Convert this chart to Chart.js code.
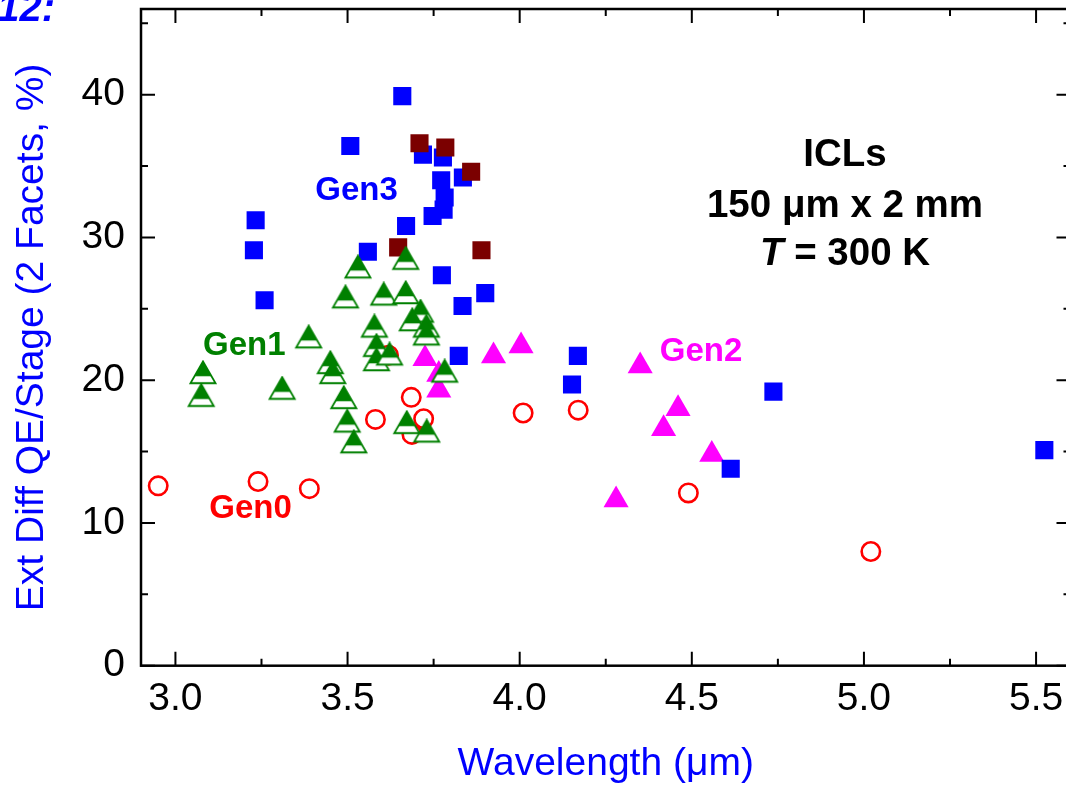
<!DOCTYPE html>
<html>
<head>
<meta charset="utf-8">
<script src="https://cdn.jsdelivr.net/npm/chart.js@4"></script>
<style>
  html, body { margin: 0; padding: 0; overflow: hidden; background: #fff; }
  #wrap { width: 1080px; height: 785px; }
</style>
</head>
<body>
<div id="wrap"><canvas id="qeChart" width="1080" height="785"></canvas></div>
<script>
// wavelength (um) vs. external differential QE per stage (%, both facets)
const gen0X = [2.95, 3.24, 3.389, 3.581, 3.619, 3.685, 3.687, 3.721, 4.01, 4.17, 4.49, 5.02];
const gen0Y = [12.6, 12.9, 12.4, 17.25, 21.75, 18.8, 16.2, 17.3, 17.7, 17.9, 12.1, 8.0];

const gen1X = [3.080, 3.075, 3.310, 3.387, 3.450, 3.457, 3.489, 3.499, 3.518, 3.530, 3.494, 3.605, 3.669,
               3.669, 3.578, 3.584, 3.584, 3.622, 3.712, 3.688, 3.729, 3.729, 3.782, 3.672, 3.730];
const gen1Y = [20.3, 18.7, 19.2, 22.8, 21.0, 20.3, 18.55, 16.9, 15.45, 27.7, 25.6, 25.8, 25.9,
               28.3, 23.55, 22.2, 21.2, 21.6, 24.6, 24.0, 23.55, 23.0, 20.4, 16.8, 16.2];

const gen2X = [3.725, 3.765, 3.765, 3.924, 4.004, 4.350, 4.460, 4.418, 4.558, 4.280];
const gen2Y = [21.5, 20.4, 19.3, 21.7, 22.4, 21.0, 18.0, 16.6, 14.8, 11.6];

const gen3X = [3.659, 3.508, 3.233, 3.228, 3.259, 3.559, 3.670, 3.719, 3.777, 3.772, 3.782, 3.779,
               3.747, 3.835, 3.774, 3.834, 3.900, 3.823, 4.169, 4.152, 4.737, 4.613, 5.524];
const gen3Y = [39.9, 36.4, 31.2, 29.1, 25.6, 29.0, 30.8, 35.8, 35.6, 34.0, 32.8, 31.95,
               31.5, 34.2, 27.35, 25.2, 26.1, 21.7, 21.7, 19.7, 19.2, 13.8, 15.1];

// newer Gen3 devices (dark red)
const gen3bX = [3.709, 3.784, 3.859, 3.647, 3.889];
const gen3bY = [36.6, 36.3, 34.6, 29.3, 29.1];

const xTicks = [3.0, 3.5, 4.0, 4.5, 5.0, 5.5];
const yTicks = [0, 10, 20, 30, 40];

const FONT = '"Liberation Sans", Arial, Helvetica, sans-serif';
const BLUE = '#0000ff', GREEN = '#008000', RED = '#ff0000', MAGENTA = '#ff00ff', MAROON = '#7b0000';

const pts = (xs, ys) => xs.map((v, i) => ({ x: v, y: ys[i] }));

// open triangle with the upper part filled, used for Gen1
function halfTriangle(r, color) {
  const c = document.createElement('canvas');
  c.width = 32; c.height = 32;
  const g = c.getContext('2d');
  const cx = 16, cy = 16;
  const dx = r * Math.sin(Math.PI / 3);
  const top = cy - r, base = cy + r / 2;
  g.beginPath();
  g.moveTo(cx, top);
  g.lineTo(cx + dx, base);
  g.lineTo(cx - dx, base);
  g.closePath();
  g.fillStyle = '#fff';
  g.fill();
  g.save();
  g.clip();
  g.fillStyle = color;
  g.fillRect(0, 0, 32, top + (base - top) * 0.68);
  g.restore();
  g.strokeStyle = color;
  g.lineWidth = 1.8;
  g.stroke();
  return c;
}

// boxed frame with inward ticks on all four sides
const framePlugin = {
  id: 'frame',
  beforeDatasetsDraw(chart) {
    const { ctx, chartArea: a, scales: { x, y } } = chart;
    ctx.save();
    ctx.strokeStyle = '#000';
    ctx.lineWidth = 2;
    ctx.beginPath();
    for (let v = 3.0; v <= 5.51; v += 0.25) {
      const px = x.getPixelForValue(v);
      const len = Math.abs(v * 2 - Math.round(v * 2)) < 1e-6 ? 14 : 7;
      ctx.moveTo(px, a.bottom); ctx.lineTo(px, a.bottom - len);
      ctx.moveTo(px, a.top); ctx.lineTo(px, a.top + len);
    }
    for (let v = 0; v <= 45; v += 5) {
      const py = y.getPixelForValue(v);
      const len = v % 10 === 0 ? 14 : 7;
      ctx.moveTo(a.left, py); ctx.lineTo(a.left + len, py);
      ctx.moveTo(a.right, py); ctx.lineTo(a.right - len, py);
    }
    ctx.stroke();
    ctx.lineWidth = 2.5;
    ctx.strokeRect(a.left, a.top, a.right - a.left, a.bottom - a.top);
    ctx.restore();
  }
};

const groupLabels = [
  { text: 'Gen0', color: RED, at: [3.218, 10.97] },
  { text: 'Gen1', color: GREEN, at: [3.200, 22.38] },
  { text: 'Gen2', color: MAGENTA, at: [4.527, 21.96] },
  { text: 'Gen3', color: BLUE, at: [3.526, 33.25] }
];

const notesPlugin = {
  id: 'notes',
  afterDatasetsDraw(chart) {
    const { ctx, scales: { x, y } } = chart;
    ctx.save();
    ctx.textAlign = 'center';
    ctx.textBaseline = 'middle';
    ctx.font = `bold 33px ${FONT}`;
    for (const g of groupLabels) {
      ctx.fillStyle = g.color;
      ctx.fillText(g.text, x.getPixelForValue(g.at[0]), y.getPixelForValue(g.at[1]));
    }

    // device info block
    const cx = x.getPixelForValue(4.945);
    const big = `bold 38.5px ${FONT}`, bigIt = `italic bold 38.5px ${FONT}`;
    ctx.fillStyle = '#000';
    ctx.textBaseline = 'alphabetic';
    ctx.font = big;
    ctx.fillText('ICLs', cx, y.getPixelForValue(34.98));
    ctx.fillText('150 \u03bcm x 2 mm', cx, y.getPixelForValue(31.41));
    const by = y.getPixelForValue(28.05);
    ctx.font = bigIt;
    const wT = ctx.measureText('T').width;
    ctx.font = big;
    const rest = ' = 300 K';
    const wR = ctx.measureText(rest).width;
    const start = cx - (wT + wR) / 2;
    ctx.textAlign = 'left';
    ctx.font = bigIt;
    ctx.fillText('T', start, by);
    ctx.font = big;
    ctx.fillText(rest, start + wT, by);

    // figure number, top left corner
    ctx.textAlign = 'right';
    ctx.fillStyle = BLUE;
    ctx.font = `italic bold 40px ${FONT}`;
    ctx.fillText('12:', 55, 21);
    ctx.restore();
  }
};

new Chart(document.getElementById('qeChart'), {
  type: 'scatter',
  data: {
    datasets: [
      {
        label: 'Gen1', data: pts(gen1X, gen1Y),
        pointStyle: halfTriangle(14.5, GREEN), pointRadius: 14.5
      },
      {
        label: 'Gen3 (new)', data: pts(gen3bX, gen3bY),
        pointStyle: 'rect', pointRadius: 12.8, backgroundColor: MAROON, borderWidth: 0
      },
      {
        label: 'Gen3', data: pts(gen3X, gen3Y),
        pointStyle: 'rect', pointRadius: 12.8, backgroundColor: BLUE, borderWidth: 0
      },
      {
        label: 'Gen2', data: pts(gen2X, gen2Y),
        pointStyle: 'triangle', pointRadius: 14.5, backgroundColor: MAGENTA, borderWidth: 0
      },
      {
        label: 'Gen0', data: pts(gen0X, gen0Y),
        pointStyle: 'circle', pointRadius: 9.2, backgroundColor: 'rgba(0,0,0,0)',
        borderColor: RED, borderWidth: 2.6
      }
    ]
  },
  options: {
    responsive: false,
    animation: false,
    events: [],
    layout: { autoPadding: false, padding: { left: 0, right: 9.5, top: 9, bottom: 0 } },
    plugins: { legend: { display: false }, tooltip: { enabled: false } },
    scales: {
      x: {
        type: 'linear', min: 2.9, max: 5.6,
        afterBuildTicks: s => { s.ticks = xTicks.map(v => ({ value: v })); },
        afterFit: s => { s.height = 119.3; s.paddingLeft = 0; s.paddingRight = 0; },
        grid: { display: false, drawTicks: false },
        border: { display: false },
        ticks: {
          color: '#000', font: { size: 39, family: FONT }, padding: 10,
          maxRotation: 0, autoSkip: false, callback: v => v.toFixed(1)
        },
        title: {
          display: true, text: 'Wavelength (\u03bcm)', color: BLUE,
          font: { size: 39, family: FONT, lineHeight: 1.0 }, padding: { top: 0, bottom: 1 }
        }
      },
      y: {
        type: 'linear', min: 0, max: 46,
        afterBuildTicks: s => { s.ticks = yTicks.map(v => ({ value: v })); },
        afterFit: s => { s.width = 141; s.paddingTop = 0; s.paddingBottom = 0; },
        grid: { display: false, drawTicks: false },
        border: { display: false },
        ticks: { color: '#000', font: { size: 39, family: FONT }, padding: 16 },
        title: {
          display: true, text: 'Ext Diff QE/Stage (2 Facets, %)', color: BLUE,
          font: { size: 39, family: FONT, lineHeight: 1.2 }, padding: { top: 8.6, bottom: 0 }
        }
      }
    }
  },
  plugins: [framePlugin, notesPlugin]
});
</script>
</body>
</html>
